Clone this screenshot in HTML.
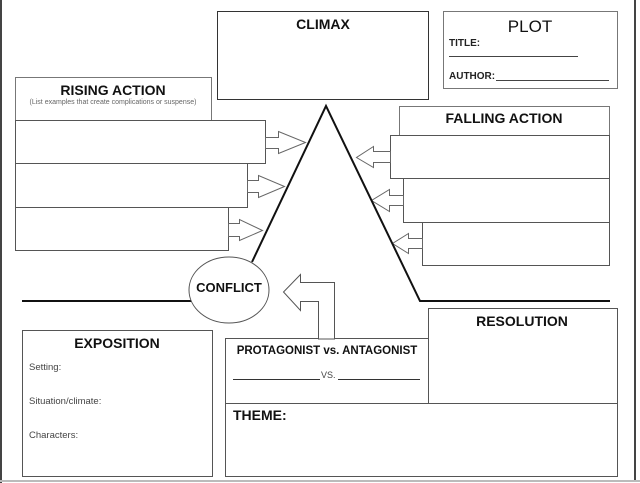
<!DOCTYPE html>
<html><head><style>
html,body{margin:0;padding:0;background:#fff;}
svg{display:block;font-family:"Liberation Sans",Arial,sans-serif;}
</style></head><body>
<svg width="640" height="483" viewBox="0 0 640 483">
<rect x="0" y="0" width="640" height="483" fill="#fff"/>
<line x1="1" y1="0" x2="1" y2="483" stroke="#444" stroke-width="2"/>
<line x1="635" y1="0" x2="635" y2="481" stroke="#444" stroke-width="2"/>
<line x1="0" y1="481" x2="640" y2="481" stroke="#bbb" stroke-width="2"/>
<g fill="#fff" stroke="#555" stroke-width="1">
<rect x="217.5" y="11.5" width="211" height="88" stroke="#333"/>
<rect x="443.5" y="11.5" width="174" height="77" stroke="#777"/>
<rect x="15.5" y="77.5" width="196" height="43" stroke="#777"/>
<rect x="15.5" y="120.5" width="250" height="43"/>
<rect x="15.5" y="163.5" width="232" height="44"/>
<rect x="15.5" y="207.5" width="213" height="43"/>
<rect x="399.5" y="106.5" width="210" height="29" stroke="#777"/>
<rect x="390.5" y="135.5" width="219" height="43"/>
<rect x="403.5" y="178.5" width="206" height="44"/>
<rect x="422.5" y="222.5" width="187" height="43"/>
<rect x="22.5" y="330.5" width="190" height="146"/>
<rect x="428.5" y="308.5" width="189" height="95"/>
<rect x="225.5" y="338.5" width="203" height="65"/>
<rect x="225.5" y="403.5" width="392" height="73"/>
</g>
<g fill="#fff" stroke="#666" stroke-width="1">
<polygon points="265.5,137.5 278.5,137.5 278.5,131.5 305.5,142.5 278.5,153.5 278.5,148.5 265.5,148.5"/>
<polygon points="247.5,180.5 258.5,180.5 258.5,175.5 284.5,186.5 258.5,197.5 258.5,192.5 247.5,192.5"/>
<polygon points="228.5,223.5 239.5,223.5 239.5,219.5 262.5,230.5 239.5,240.5 239.5,236.5 228.5,236.5"/>
<polygon points="390.5,151.5 373.5,151.5 373.5,146.5 356.5,157.5 373.5,167.5 373.5,162.5 390.5,162.5"/>
<polygon points="403.5,195.5 389.5,195.5 389.5,189.5 371.5,200.5 389.5,211.5 389.5,205.5 403.5,205.5"/>
<polygon points="422.5,238.5 408.5,238.5 408.5,233.5 392.5,243.5 408.5,253.5 408.5,248.5 422.5,248.5"/>
</g>
<polyline points="252,262 326,106 420,301 610,301" fill="none" stroke="#111" stroke-width="2"/>
<line x1="22" y1="301" x2="192" y2="301" stroke="#111" stroke-width="2"/>
<ellipse cx="229" cy="290" rx="40" ry="33" fill="#fff" stroke="#555"/>
<polygon points="318.5,339 318.5,301.5 300.5,301.5 300.5,310.5 283.5,292 300.5,274.5 300.5,282.5 334.5,282.5 334.5,339" fill="#fff" stroke="#555"/>
<g fill="#111" font-weight="bold" text-anchor="middle">
<text x="323" y="29" font-size="14">CLIMAX</text>
<text x="113" y="95" font-size="14">RISING ACTION</text>
<text x="504" y="123" font-size="14">FALLING ACTION</text>
<text x="229" y="292" font-size="13">CONFLICT</text>
<text x="117" y="348" font-size="14">EXPOSITION</text>
<text x="522" y="326" font-size="14">RESOLUTION</text>
<text x="327" y="354" font-size="11.5">PROTAGONIST vs. ANTAGONIST</text>
</g>
<text x="113" y="104" font-size="7" fill="#666" text-anchor="middle">(List examples that create complications or suspense)</text>
<text x="530" y="32" font-size="17" fill="#111" text-anchor="middle">PLOT</text>
<text x="449" y="46" font-size="10" fill="#222" font-weight="bold">TITLE:</text>
<line x1="449" y1="56.5" x2="578" y2="56.5" stroke="#444"/>
<text x="449" y="79" font-size="10" fill="#222" font-weight="bold">AUTHOR:</text>
<line x1="496" y1="80.5" x2="609" y2="80.5" stroke="#444"/>
<text x="233" y="420" font-size="14" font-weight="bold" fill="#111">THEME:</text>
<line x1="233" y1="379.5" x2="320" y2="379.5" stroke="#333"/>
<text x="321" y="378" font-size="9" fill="#444">VS.</text>
<line x1="338" y1="379.5" x2="420" y2="379.5" stroke="#333"/>
<g font-size="9.5" fill="#444">
<text x="29" y="370">Setting:</text>
<text x="29" y="404">Situation/climate:</text>
<text x="29" y="438">Characters:</text>
</g>
</svg>
</body></html>
